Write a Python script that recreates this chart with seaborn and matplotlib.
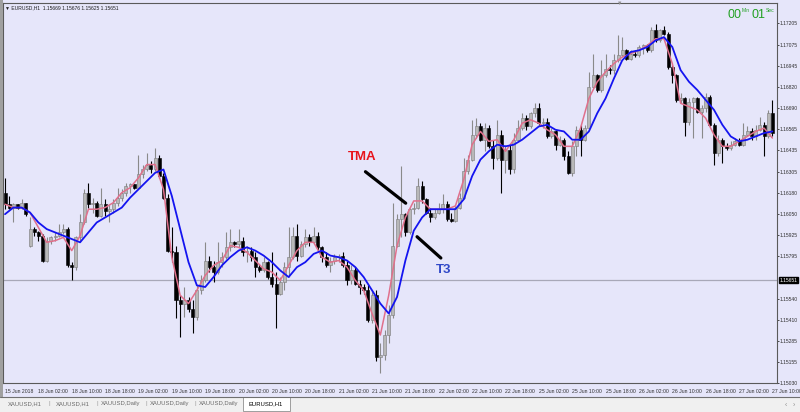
import matplotlib
matplotlib.use('Agg')
import matplotlib.pyplot as plt
import matplotlib.transforms as mtransforms
from matplotlib.patches import Rectangle
import seaborn as sns
import pandas as pd
import numpy as np

# EURUSD H1 candles, 15 Jun 2018 18:00 .. 27 Jun 2018 10:00
open_ = [1.1618, 1.1611, 1.1609, 1.1611, 1.1609, 1.1612, 1.1586, 1.1596, 1.1594, 1.1592,
         1.1577, 1.1589, 1.1591, 1.1592, 1.1594, 1.1596, 1.1574, 1.1573, 1.1591, 1.1600,
         1.1618, 1.1611, 1.1612, 1.1604, 1.1611, 1.1607, 1.1608, 1.1612, 1.1615, 1.1618,
         1.1622, 1.1623, 1.1621, 1.1629, 1.1632, 1.1635, 1.1632, 1.1639, 1.1628, 1.1615,
         1.1583, 1.1582, 1.1553, 1.1551, 1.1553, 1.1548, 1.1543, 1.1559, 1.1565, 1.1577,
         1.1573, 1.1570, 1.1576, 1.1579, 1.1585, 1.1588, 1.1587, 1.1589, 1.1582, 1.1583,
         1.1579, 1.1573, 1.1571, 1.1576, 1.1567, 1.1563, 1.1557, 1.1564, 1.1573, 1.1579,
         1.1592, 1.1580, 1.1587, 1.1591, 1.1588, 1.1592, 1.1585, 1.1579, 1.1574, 1.1577,
         1.1579, 1.1580, 1.1574, 1.1565, 1.1571, 1.1563, 1.1561, 1.1559, 1.1541, 1.1556,
         1.1519, 1.1520, 1.1532, 1.1544, 1.1586, 1.1602, 1.1605, 1.1594, 1.1608, 1.1609,
         1.1622, 1.1614, 1.1606, 1.1603, 1.1606, 1.1608, 1.1611, 1.1602, 1.1601, 1.1609,
         1.1615, 1.1631, 1.1638, 1.1653, 1.1658, 1.1650, 1.1657, 1.1646, 1.1639, 1.1653,
         1.1638, 1.1644, 1.1632, 1.1650, 1.1657, 1.1663, 1.1658, 1.1666, 1.1669, 1.1660,
         1.1661, 1.1652, 1.1655, 1.1647, 1.1650, 1.1640, 1.1630, 1.1646, 1.1656, 1.1650,
         1.1657, 1.1682, 1.1689, 1.1680, 1.1689, 1.1693, 1.1692, 1.1698, 1.1701, 1.1704,
         1.1699, 1.1702, 1.1701, 1.1706, 1.1707, 1.1704, 1.1716, 1.1710, 1.1716, 1.1714,
         1.1694, 1.1689, 1.1674, 1.1675, 1.1661, 1.1673, 1.1675, 1.1667, 1.1669, 1.1676,
         1.1659, 1.1642, 1.1650, 1.1646, 1.1645, 1.1647, 1.1649, 1.1647, 1.1653, 1.1655,
         1.1652, 1.1656, 1.1659, 1.1652, 1.1666]
close = [1.1611, 1.1609, 1.1611, 1.1609, 1.1612, 1.1605, 1.1596, 1.1594, 1.1592, 1.1577,
         1.1589, 1.1591, 1.1592, 1.1594, 1.1596, 1.1574, 1.1573, 1.1591, 1.1600, 1.1618,
         1.1611, 1.1612, 1.1604, 1.1611, 1.1607, 1.1608, 1.1612, 1.1615, 1.1618, 1.1622,
         1.1623, 1.1621, 1.1629, 1.1632, 1.1635, 1.1632, 1.1639, 1.1628, 1.1615, 1.1583,
         1.1582, 1.1553, 1.1551, 1.1553, 1.1548, 1.1543, 1.1559, 1.1565, 1.1577, 1.1573,
         1.1570, 1.1576, 1.1579, 1.1585, 1.1588, 1.1587, 1.1589, 1.1582, 1.1583, 1.1579,
         1.1573, 1.1571, 1.1576, 1.1567, 1.1563, 1.1557, 1.1564, 1.1573, 1.1579, 1.1592,
         1.1580, 1.1587, 1.1591, 1.1588, 1.1592, 1.1585, 1.1579, 1.1574, 1.1577, 1.1579,
         1.1580, 1.1574, 1.1565, 1.1571, 1.1563, 1.1561, 1.1559, 1.1541, 1.1556, 1.1519,
         1.1520, 1.1532, 1.1544, 1.1586, 1.1602, 1.1605, 1.1594, 1.1608, 1.1609, 1.1622,
         1.1614, 1.1606, 1.1603, 1.1606, 1.1608, 1.1611, 1.1602, 1.1601, 1.1609, 1.1615,
         1.1631, 1.1638, 1.1653, 1.1658, 1.1650, 1.1657, 1.1646, 1.1639, 1.1653, 1.1638,
         1.1644, 1.1632, 1.1650, 1.1657, 1.1663, 1.1658, 1.1666, 1.1669, 1.1660, 1.1661,
         1.1652, 1.1655, 1.1647, 1.1650, 1.1640, 1.1630, 1.1646, 1.1656, 1.1650, 1.1657,
         1.1682, 1.1689, 1.1680, 1.1689, 1.1693, 1.1692, 1.1698, 1.1701, 1.1704, 1.1699,
         1.1702, 1.1701, 1.1706, 1.1707, 1.1704, 1.1716, 1.1710, 1.1716, 1.1714, 1.1694,
         1.1689, 1.1674, 1.1675, 1.1661, 1.1673, 1.1675, 1.1667, 1.1669, 1.1676, 1.1659,
         1.1642, 1.1650, 1.1646, 1.1645, 1.1647, 1.1649, 1.1647, 1.1653, 1.1655, 1.1652,
         1.1656, 1.1659, 1.1652, 1.1666, 1.1654]
high = [1.1627, 1.1616, 1.1612, 1.1611, 1.1614, 1.1612, 1.1603, 1.1597, 1.1595, 1.1593,
        1.1591, 1.1592, 1.1594, 1.1599, 1.1599, 1.1597, 1.1576, 1.1592, 1.1605, 1.1620,
        1.1624, 1.1615, 1.1613, 1.1621, 1.1614, 1.1611, 1.1614, 1.1621, 1.1620, 1.1624,
        1.1624, 1.1623, 1.1641, 1.1635, 1.1642, 1.1637, 1.1645, 1.1641, 1.1630, 1.1617,
        1.1597, 1.1586, 1.1556, 1.1561, 1.1555, 1.1553, 1.1562, 1.1568, 1.1588, 1.1580,
        1.1577, 1.1588, 1.1582, 1.1594, 1.1596, 1.1589, 1.1596, 1.1591, 1.1586, 1.1585,
        1.1582, 1.1575, 1.1579, 1.1577, 1.1582, 1.1570, 1.1567, 1.1576, 1.1597, 1.1597,
        1.1599, 1.1589, 1.1596, 1.1593, 1.1597, 1.1594, 1.1586, 1.1582, 1.1579, 1.1581,
        1.1581, 1.1582, 1.1577, 1.1574, 1.1573, 1.1565, 1.1563, 1.1562, 1.1559, 1.1559,
        1.1527, 1.1535, 1.1550, 1.1612, 1.1605, 1.1634, 1.1606, 1.1609, 1.1612, 1.1627,
        1.1625, 1.1615, 1.1609, 1.1608, 1.1612, 1.1617, 1.1613, 1.1606, 1.1610, 1.1618,
        1.1639, 1.1641, 1.1662, 1.1663, 1.1660, 1.1660, 1.1659, 1.1650, 1.1662, 1.1656,
        1.1647, 1.1647, 1.1654, 1.1662, 1.1666, 1.1665, 1.1667, 1.1672, 1.1672, 1.1663,
        1.1663, 1.1657, 1.1656, 1.1652, 1.1651, 1.1643, 1.1649, 1.1658, 1.1659, 1.1659,
        1.1691, 1.1702, 1.1690, 1.1698, 1.1702, 1.1695, 1.1702, 1.1713, 1.1712, 1.1705,
        1.1704, 1.1704, 1.1707, 1.1708, 1.1708, 1.1718, 1.1720, 1.1717, 1.1719, 1.1715,
        1.1695, 1.1690, 1.1678, 1.1676, 1.1675, 1.1676, 1.1676, 1.1671, 1.1678, 1.1677,
        1.1660, 1.1653, 1.1651, 1.1648, 1.1649, 1.1651, 1.1651, 1.1660, 1.1658, 1.1657,
        1.1659, 1.1664, 1.1661, 1.1668, 1.1674]
low = [1.1608, 1.1608, 1.1600, 1.1608, 1.1608, 1.1604, 1.1585, 1.1592, 1.1589, 1.1576,
       1.1576, 1.1587, 1.1589, 1.1591, 1.1593, 1.1573, 1.1565, 1.1571, 1.1588, 1.1599,
       1.1609, 1.1606, 1.1603, 1.1603, 1.1604, 1.1600, 1.1606, 1.1610, 1.1613, 1.1616,
       1.1618, 1.1620, 1.1620, 1.1627, 1.1631, 1.1630, 1.1631, 1.1627, 1.1614, 1.1582,
       1.1576, 1.1542, 1.1531, 1.1543, 1.1546, 1.1533, 1.1541, 1.1557, 1.1564, 1.1570,
       1.1564, 1.1569, 1.1573, 1.1578, 1.1583, 1.1585, 1.1585, 1.1580, 1.1576, 1.1577,
       1.1567, 1.1570, 1.1570, 1.1566, 1.1561, 1.1536, 1.1556, 1.1559, 1.1567, 1.1578,
       1.1577, 1.1579, 1.1585, 1.1586, 1.1587, 1.1583, 1.1576, 1.1573, 1.1570, 1.1575,
       1.1576, 1.1573, 1.1562, 1.1563, 1.1562, 1.1557, 1.1557, 1.1540, 1.1539, 1.1516,
       1.1509, 1.1517, 1.1527, 1.1542, 1.1585, 1.1591, 1.1592, 1.1593, 1.1605, 1.1608,
       1.1612, 1.1605, 1.1600, 1.1602, 1.1605, 1.1606, 1.1601, 1.1600, 1.1600, 1.1608,
       1.1614, 1.1629, 1.1637, 1.1651, 1.1649, 1.1643, 1.1645, 1.1632, 1.1638, 1.1618,
       1.1630, 1.1629, 1.1630, 1.1649, 1.1656, 1.1656, 1.1657, 1.1664, 1.1659, 1.1657,
       1.1651, 1.1651, 1.1644, 1.1646, 1.1638, 1.1629, 1.1628, 1.1640, 1.1640, 1.1649,
       1.1656, 1.1681, 1.1679, 1.1679, 1.1688, 1.1690, 1.1690, 1.1697, 1.1700, 1.1698,
       1.1698, 1.1700, 1.1700, 1.1702, 1.1703, 1.1703, 1.1709, 1.1709, 1.1713, 1.1693,
       1.1684, 1.1673, 1.1672, 1.1652, 1.1659, 1.1651, 1.1666, 1.1651, 1.1667, 1.1658,
       1.1635, 1.1640, 1.1636, 1.1644, 1.1644, 1.1646, 1.1646, 1.1646, 1.1652, 1.1650,
       1.1650, 1.1655, 1.1640, 1.1651, 1.1652]

# indicator values read every second bar
line_bars = list(range(0, 185, 2))
tma = [1.1611, 1.1609, 1.1609, 1.1606, 1.1597, 1.1588, 1.1589, 1.1591, 1.1583, 1.1592,
       1.1608, 1.1608, 1.1609, 1.1612, 1.1618, 1.1621, 1.1627, 1.1635, 1.1635, 1.1620,
       1.1579, 1.1556, 1.1551, 1.1559, 1.1568, 1.1574, 1.1577, 1.1586, 1.1585, 1.1582,
       1.1577, 1.1572, 1.1570, 1.1565, 1.1574, 1.1583, 1.1588, 1.1588, 1.1579, 1.1576,
       1.1577, 1.1573, 1.1565, 1.1559, 1.1545, 1.1532, 1.1556, 1.1586, 1.1603, 1.1613,
       1.1613, 1.1608, 1.1608, 1.1608, 1.1610, 1.1626, 1.1647, 1.1655, 1.1649, 1.1650,
       1.1643, 1.1650, 1.1660, 1.1662, 1.1660, 1.1656, 1.1653, 1.1646, 1.1646, 1.1657,
       1.1675, 1.1685, 1.1691, 1.1696, 1.1700, 1.1702, 1.1704, 1.1707, 1.1711, 1.1711,
       1.1696, 1.1672, 1.1670, 1.1668, 1.1663, 1.1653, 1.1646, 1.1646, 1.1649, 1.1652,
       1.1655, 1.1657, 1.1651]
t3 = [1.1605, 1.1609, 1.1609, 1.1606, 1.1600, 1.1596, 1.1594, 1.1592, 1.1590, 1.1588,
      1.1594, 1.1600, 1.1603, 1.1606, 1.1609, 1.1615, 1.1620, 1.1625, 1.1630, 1.1632,
      1.1616, 1.1596, 1.1576, 1.1562, 1.1561, 1.1567, 1.1574, 1.1579, 1.1583, 1.1585,
      1.1583, 1.1580, 1.1576, 1.1571, 1.1567, 1.1573, 1.1576, 1.1581, 1.1583, 1.1580,
      1.1579, 1.1577, 1.1573, 1.1567, 1.1559, 1.1551, 1.1545, 1.1555, 1.1577, 1.1595,
      1.1603, 1.1608, 1.1608, 1.1608, 1.1608, 1.1614, 1.1628, 1.1638, 1.1643, 1.1647,
      1.1646, 1.1647, 1.1650, 1.1654, 1.1658, 1.1659, 1.1656, 1.1655, 1.1650, 1.1650,
      1.1655, 1.1666, 1.1675, 1.1687, 1.1698, 1.1703, 1.1704, 1.1706, 1.1710, 1.1712,
      1.1706, 1.1692, 1.1685, 1.1680, 1.1674, 1.1668, 1.1659, 1.1652, 1.1649, 1.1650,
      1.1652, 1.1654, 1.1655]

time_ticks = list(range(0, 185, 8))
time_labels = ['15 Jun 2018', '18 Jun 02:00', '18 Jun 10:00', '18 Jun 18:00', '19 Jun 02:00',
               '19 Jun 10:00', '19 Jun 18:00', '20 Jun 02:00', '20 Jun 10:00', '20 Jun 18:00',
               '21 Jun 02:00', '21 Jun 10:00', '21 Jun 18:00', '22 Jun 02:00', '22 Jun 10:00',
               '22 Jun 18:00', '25 Jun 02:00', '25 Jun 10:00', '25 Jun 18:00', '26 Jun 02:00',
               '26 Jun 10:00', '26 Jun 18:00', '27 Jun 02:00', '27 Jun 10:00']
price_ticks = [1.17205, 1.17075, 1.16945, 1.16820, 1.16690, 1.16565, 1.16435, 1.16305,
               1.16180, 1.16050, 1.15925, 1.15795, 1.15540, 1.15410, 1.15285, 1.15155, 1.15030]
last_price = 1.15651
header = '\u25bc EURUSD,H1  1.15669 1.15676 1.15625 1.15651'
tabs = ['XAUUSD,H1', 'XAUUSD,H1', 'XAUUSD,Daily', 'XAUUSD,Daily', 'XAUUSD,Daily', 'EURUSD,H1']

BG = '#e6e6fa'
sns.set_style('white')
plt.rcParams['font.family'] = ['Liberation Sans', 'DejaVu Sans']

bars = pd.DataFrame({'open': open_, 'high': high, 'low': low, 'close': close})
bars['bar'] = np.arange(len(bars))
bars['bottom'] = bars[['open', 'close']].min(axis=1)
bars['height'] = (bars['close'] - bars['open']).abs().clip(lower=0.00002)
up = bars[bars['close'] >= bars['open']]
down = bars[bars['close'] < bars['open']]

fig = plt.figure(figsize=(8, 4.12), dpi=100, facecolor=BG)
ax = fig.add_axes([3 / 800, 29 / 412, 774 / 800, 380 / 412])
ax.set_facecolor(BG)

ax.vlines(up['bar'], up['low'], up['high'], color='#8a8a8a', lw=0.8, zorder=2)
ax.vlines(down['bar'], down['low'], down['high'], color='black', lw=0.8, zorder=2)
ax.bar(up['bar'], up['height'], bottom=up['bottom'], width=0.72,
       color='#b8b8b8', edgecolor='#7a7a7a', lw=0.4, zorder=3)
ax.bar(down['bar'], down['height'], bottom=down['bottom'], width=0.72,
       color='black', edgecolor='black', lw=0.4, zorder=3)

ax.axhline(last_price, color='#a8a8b8', lw=0.9, zorder=1)

sns.lineplot(x=line_bars, y=tma, color='#e0708c', lw=1.1, ax=ax, zorder=4)
sns.lineplot(x=line_bars, y=t3, color='#1414f0', lw=1.3, ax=ax, zorder=5)

# labels pointing at the two lines
ax.annotate('', xy=(96.6, 1.16106), xytext=(85.9, 1.16317),
            arrowprops=dict(arrowstyle='-', color='black', lw=2.3), zorder=6)
ax.annotate('', xy=(98.3, 1.15925), xytext=(105.0, 1.15774),
            arrowprops=dict(arrowstyle='-', color='black', lw=2.3), zorder=6)
ax.text(85.6, 1.16396, 'TMA', color='#e8141c', fontsize=9.5, fontweight='bold',
        ha='center', va='center', zorder=6)
ax.text(105.2, 1.15713, 'T3', color='#3048c8', fontsize=9.5, fontweight='bold',
        ha='center', va='center', zorder=6)

ax.set_xlim(-0.48, 185.1)
ax.set_ylim(1.15031, 1.17326)
ax.set_xlabel('')
ax.set_ylabel('')

ax.yaxis.tick_right()
ax.set_yticks(price_ticks)
ax.set_yticklabels([f'{p:.5f}' for p in price_ticks])
ax.set_xticks(time_ticks)
ax.set_xticklabels(time_labels, ha='left')
ax.tick_params(axis='x', labelsize=3.7, colors='#303030', length=3, width=0.6, pad=1.5)
ax.tick_params(axis='y', labelsize=3.6, colors='#303030', length=1.5, width=0.6, pad=0.6)
for s in ax.spines.values():
    s.set_color('#5a5a5a')
    s.set_linewidth(0.8)

trans = mtransforms.blended_transform_factory(ax.transAxes, ax.transData)
ax.text(1.0035, last_price, f'{last_price:.5f}', transform=trans, fontsize=3.6, color='white',
        va='center', ha='left', zorder=7,
        bbox=dict(boxstyle='square,pad=0.15', fc='black', ec='black'))


def px(x, y):
    return x / 800, 1 - y / 412


fig.text(*px(5, 8), header, fontsize=3.6, color='#202020', va='center', ha='left')
fig.text(*px(620, 3), '\u25bc', fontsize=4, color='#909090', va='center', ha='center')

green = '#22a022'
fig.text(*px(727, 15), '00', fontsize=9, color=green, va='center', ha='left')
fig.text(*px(742, 10), 'Min', fontsize=3.6, color=green, va='center', ha='left')
fig.text(*px(751, 15), '01', fontsize=9, color=green, va='center', ha='left')
fig.text(*px(766, 10), 'Sec', fontsize=3.6, color=green, va='center', ha='left')

# window border and tab bar
fig.patches.append(Rectangle((0, 0), 3 / 800, 1, transform=fig.transFigure,
                             fc='#a0a0a0', ec='none', zorder=0))
fig.patches.append(Rectangle((0, 0), 1, 15 / 412, transform=fig.transFigure,
                             fc='#f0f0f0', ec='none', zorder=0))
fig.lines.append(plt.Line2D([0, 1], [15 / 412, 15 / 412], transform=fig.transFigure,
                            color='#707070', lw=0.8))
fig.patches.append(Rectangle(px(243, 411), 47 / 800, 14 / 412, transform=fig.transFigure,
                             fc='white', ec='#909090', lw=0.6, zorder=1))
tab_x = [25, 73, 121, 170, 219, 266]
sep_x = [49, 97, 146, 195]
for i, (tx, name) in enumerate(zip(tab_x, tabs)):
    active = i == len(tabs) - 1
    fig.text(*px(tx, 404), name, fontsize=4.2, color='black' if active else '#6a6a6a',
             ha='center', va='center', zorder=2)
for sx in sep_x:
    fig.text(*px(sx, 404), '|', fontsize=4.5, color='#a0a0a0', ha='center', va='center')
fig.text(*px(786, 405), '\u2039', fontsize=5, color='#909090', ha='center', va='center')
fig.text(*px(794, 405), '\u203a', fontsize=5, color='#909090', ha='center', va='center')

fig.savefig('out.png', dpi=100, facecolor=BG)
